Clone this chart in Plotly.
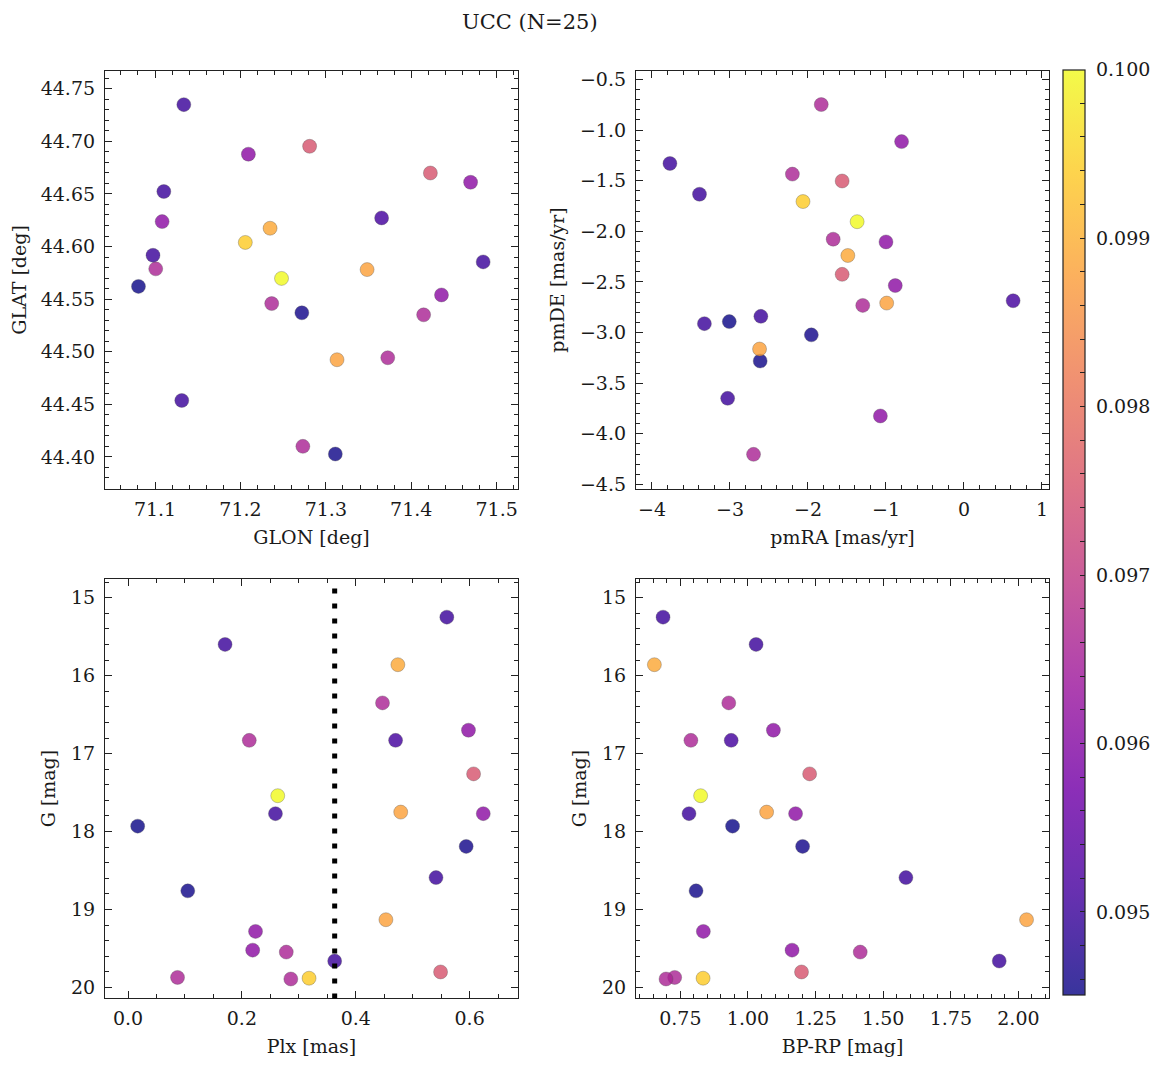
import numpy as np
import plotly.graph_objects as go
import plotly.colors as pc

# ---- data (25 stars) ----
GLON = [71.1337, 71.1103, 71.2347, 71.1008, 71.4695, 71.2366, 71.3653, 71.2810, 71.2481,
        71.3483, 71.0976, 71.4354, 71.0806, 71.2719, 71.4842, 71.3111, 71.3131, 71.2093,
        71.1083, 71.4145, 71.1313, 71.4224, 71.3725, 71.2731, 71.2057]
GLAT = [44.7349, 44.6523, 44.6174, 44.5788, 44.6611, 44.5458, 44.6272, 44.6953, 44.5697,
        44.5781, 44.5917, 44.5540, 44.5621, 44.5370, 44.5854, 44.4028, 44.4924, 44.6878,
        44.6237, 44.5351, 44.4537, 44.6699, 44.4943, 44.4101, 44.6039]
pmRA = [-3.770, -3.391, -1.489, -1.830, -0.800, -2.200, 0.630, -1.562, -1.370,
        -0.991, -2.604, -1.000, -3.009, -1.957, -3.328, -2.613, -2.621, -0.881,
        -1.072, -1.677, -3.030, -1.562, -1.298, -2.698, -2.064]
pmDE = [-1.330, -1.634, -2.239, -0.748, -1.114, -1.435, -2.686, -1.503, -1.905,
        -2.709, -2.840, -2.105, -2.892, -3.023, -2.912, -3.281, -3.163, -2.536,
        -3.824, -2.078, -3.650, -2.425, -2.732, -4.203, -1.706]
Plx = [0.560, 0.1705, 0.474, 0.447, 0.598, 0.213, 0.470, 0.607, 0.263,
       0.479, 0.259, 0.624, 0.017, 0.594, 0.541, 0.105, 0.453, 0.224,
       0.219, 0.278, 0.363, 0.549, 0.087, 0.286, 0.318]
Gmag = [15.25, 15.60, 15.86, 16.35, 16.70, 16.83, 16.83, 17.26, 17.54,
        17.75, 17.77, 17.77, 17.93, 18.19, 18.59, 18.76, 19.13, 19.28,
        19.52, 19.545, 19.66, 19.80, 19.87, 19.89, 19.88]
BPRP = [0.686, 1.030, 0.654, 0.929, 1.094, 0.789, 0.938, 1.228, 0.825,
        1.069, 0.782, 1.176, 0.943, 1.202, 1.584, 0.808, 2.030, 0.835,
        1.163, 1.415, 1.929, 1.198, 0.729, 0.697, 0.834]
prob = [0.0950, 0.0950, 0.0989, 0.0966, 0.0961, 0.0966, 0.0951, 0.0975, 0.1000,
        0.0988, 0.0950, 0.0961, 0.09451, 0.09458, 0.0950, 0.09455, 0.0988, 0.0961,
        0.0961, 0.0966, 0.0950, 0.0975, 0.0966, 0.0966, 0.0994]

cbar_labels = [0.095, 0.096, 0.097, 0.098, 0.099, 0.100]
CMIN, CMAX = 0.09451, 0.1000

FONT = "DejaVu Serif"
TXT = "#1a1a1a"
OFF = 8                      # page body margin in the browser
W, H = 1160 - OFF, 1068 - OFF

ALPHA = 0.82
plasma = pc.sequential.Plasma
cs = []
for i, c in enumerate(plasma):
    r, g, b = pc.hex_to_rgb(c)
    cs.append([i / (len(plasma) - 1), f"rgba({r},{g},{b},{ALPHA})"])

# colorbar ticks: minor every 0.0002, labels only at the major values
cb_vals = [round(v, 4) for v in np.arange(0.0946, CMAX + 1e-9, 0.0002)]
cb_text = [("\u00a0" + f"{v:.3f}") if any(abs(v - m) < 1e-7 for m in cbar_labels) else "" for v in cb_vals]

def xdom(a, b):
    return [(a - OFF) / W, (b - OFF) / W]

def ydom(top, bot):
    return [1 - (bot - OFF) / H, 1 - (top - OFF) / H]

marker = dict(size=14, color=prob, coloraxis="coloraxis",
              line=dict(width=0.6, color="rgba(80,80,80,0.55)"))

fig = go.Figure()
fig.add_trace(go.Scatter(x=GLON, y=GLAT, mode="markers", marker=marker, xaxis="x", yaxis="y", showlegend=False))
fig.add_trace(go.Scatter(x=pmRA, y=pmDE, mode="markers", marker=marker, xaxis="x2", yaxis="y2", showlegend=False))
fig.add_trace(go.Scatter(x=Plx, y=Gmag, mode="markers", marker=marker, xaxis="x3", yaxis="y3", showlegend=False))
fig.add_trace(go.Scatter(x=BPRP, y=Gmag, mode="markers", marker=marker, xaxis="x4", yaxis="y4", showlegend=False))

plx_med = float(np.median(Plx))
fig.add_shape(type="line", xref="x3", yref="y3 domain", x0=plx_med, x1=plx_med, y0=0, y1=1,
              line=dict(color="black", width=5, dash="5px,10px"), layer="above")

FS = 19

def ax(dom, rng, dtick, minor, title, fmt=None, anchor=None, is_y=False):
    d = dict(domain=dom, range=rng, dtick=dtick, tick0=0, showline=True, linecolor="#222",
             linewidth=1.2, mirror="allticks", ticks="inside", ticklen=7, tickwidth=1.1,
             tickcolor="#222", showgrid=False, zeroline=False,
             ticklabelstandoff=5 if is_y else 3,
             tickfont=dict(family=FONT, size=FS, color=TXT),
             title=dict(text=title, font=dict(family=FONT, size=FS, color=TXT),
                        standoff=10 if is_y else 11),
             minor=dict(ticks="inside", ticklen=4, tickwidth=1, tickcolor="#222", dtick=minor, tick0=0,
                        showgrid=False),
             anchor=anchor)
    if fmt:
        d["tickformat"] = fmt
    return d

xl1, xr1 = 105, 518
xl2, xr2 = 636, 1049
yt1, yb1 = 69, 491
yt2, yb2 = 581, 1004

fig.update_layout(
    width=W, height=H, paper_bgcolor="white", plot_bgcolor="white",
    margin=dict(l=0, r=0, t=0, b=0),
    font=dict(family=FONT, color=TXT),
    xaxis=ax(xdom(xl1, xr1), [71.0414, 71.525], 0.1, 0.02, "GLON [deg]", ".1f", "y"),
    yaxis=ax(ydom(yt1, yb1), [44.3692, 44.7673], 0.05, 0.01, "GLAT [deg]", ".2f", "x", True),
    xaxis2=ax(xdom(xl2, xr2), [-4.205, 1.090], 1, 0.2, "pmRA [mas/yr]", None, "y2"),
    yaxis2=ax(ydom(yt1, yb1), [-4.549, -0.412], 0.5, 0.1, "pmDE [mas/yr]", ".1f", "x2", True),
    xaxis3=ax(xdom(xl1, xr1), [-0.0404, 0.685], 0.2, 0.05, "Plx [mas]", ".1f", "y3"),
    yaxis3=ax(ydom(yt2, yb2), [20.14, 14.757], 1, 0.2, "G [mag]", None, "x3", True),
    xaxis4=ax(xdom(xl2, xr2), [0.586, 2.113], 0.25, 0.05, "BP-RP [mag]", ".2f", "y4"),
    yaxis4=ax(ydom(yt2, yb2), [20.14, 14.757], 1, 0.2, "G [mag]", None, "x4", True),
    coloraxis=dict(
        colorscale=cs, cmin=CMIN, cmax=CMAX,
        colorbar=dict(
            x=(1063 - OFF) / W, xanchor="left", y=1 - (68 - OFF) / H, yanchor="top",
            len=(1000 - 68) / H, lenmode="fraction", thickness=22, thicknessmode="pixels",
            outlinewidth=1.2, outlinecolor="#222",
            tickmode="array", tickvals=cb_vals, ticktext=cb_text,
            ticks="inside", ticklen=5, tickwidth=1.0, tickcolor="#222",
            tickfont=dict(family=FONT, size=FS, color=TXT), xpad=0, ypad=0,
        ),
    ),
    annotations=[dict(text="UCC (N=25)", x=(530 - OFF) / W, y=1 - (20 - OFF) / H, xref="paper", yref="paper",
                      showarrow=False, xanchor="center", yanchor="middle",
                      font=dict(family=FONT, size=21, color=TXT))],
)

fig.write_html("out.html")
